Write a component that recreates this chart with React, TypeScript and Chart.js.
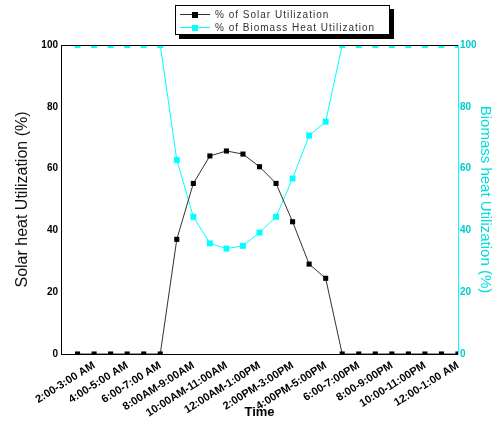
import React, { useEffect, useRef } from "react";
import { Chart, registerables } from "chart.js";

Chart.register(...registerables);

// Hour slots (1 = 1:00-2:00 AM ... 24 = 12:00-1:00 AM)
const hourSlots = [1, 2, 3, 4, 5, 6, 7, 8, 9, 10, 11, 12, 13, 14, 15, 16, 17, 18, 19, 20, 21, 22, 23, 24];
const solarUtilization = [0, 0, 0, 0, 0, 0, 37.1, 55.2, 64.1, 65.7, 64.7, 60.6, 55.2, 42.8, 29.1, 24.5, 0, 0, 0, 0, 0, 0, 0, 0];
const biomassUtilization = [100, 100, 100, 100, 100, 100, 62.8, 44.4, 35.8, 34.1, 35.0, 39.3, 44.4, 56.8, 70.7, 75.2, 100, 100, 100, 100, 100, 100, 100, 100];
const xTickPositions = [2, 4, 6, 8, 10, 12, 14, 16, 18, 20, 22, 24];
const xTickLabels = [
  "2:00-3:00 AM",
  "4:00-5:00 AM",
  "6:00-7:00 AM",
  "8:00AM-9:00AM",
  "10:00AM-11:00AM",
  "12:00AM-1:00PM",
  "2:00PM-3:00PM",
  "4:00PM-5:00PM",
  "6:00-7:00PM",
  "8:00-9:00PM",
  "10:00-11:00PM",
  "12:00-1:00 AM",
];
const legendLabels = ["% of Solar Utilization", "% of Biomass Heat Utilization"];

const FONT = "Arial, 'Liberation Sans', sans-serif";
const CYAN = "#00FFFF";
const DARK = "#333333";

const clipPlugin = {
  id: "hardClip",
  beforeDatasetsDraw(chart: any) {
    const { ctx, chartArea } = chart;
    ctx.save();
    ctx.beginPath();
    ctx.rect(chartArea.left, chartArea.top, chartArea.right - chartArea.left, chartArea.bottom - chartArea.top);
    ctx.clip();
  },
  afterDatasetsDraw(chart: any) {
    chart.ctx.restore();
  },
};

const overlayPlugin = {
  id: "overlay",
  afterDraw(chart: any) {
    const { ctx, chartArea } = chart;
    ctx.save();
    // top frame line
    ctx.strokeStyle = "#000";
    ctx.lineWidth = 1;
    ctx.beginPath();
    ctx.moveTo(chartArea.left, chartArea.top + 0.5);
    ctx.lineTo(chartArea.right, chartArea.top + 0.5);
    ctx.stroke();

    // legend box with shadow
    const bx = 175, by = 5, bw = 215, bh = 30;
    ctx.fillStyle = "#000";
    ctx.fillRect(bx + 4, by + 4, bw, bh);
    ctx.fillStyle = "#fff";
    ctx.fillRect(bx, by, bw, bh);
    ctx.strokeStyle = "#000";
    ctx.strokeRect(bx + 0.5, by + 0.5, bw - 1, bh - 1);

    const rows = [
      { y: 14, line: DARK, mark: "#000", text: legendLabels[0] },
      { y: 27, line: CYAN, mark: CYAN, text: legendLabels[1] },
    ];
    ctx.font = `10px ${FONT}`;
    (ctx as any).letterSpacing = "1px";
    ctx.textBaseline = "middle";
    ctx.textAlign = "left";
    rows.forEach((r) => {
      ctx.strokeStyle = r.line;
      ctx.beginPath();
      ctx.moveTo(180, r.y + 0.5);
      ctx.lineTo(210, r.y + 0.5);
      ctx.stroke();
      ctx.fillStyle = r.mark;
      ctx.fillRect(192, r.y - 2, 6, 6);
      ctx.fillStyle = DARK;
      ctx.fillText(r.text, 215, r.y + 1);
    });
    (ctx as any).letterSpacing = "0px";
    ctx.restore();
  },
};

export default function App() {
  const canvasRef = useRef<HTMLCanvasElement | null>(null);

  useEffect(() => {
    if (!canvasRef.current) return;
    const chart = new Chart(canvasRef.current, {
      type: "line",
      data: {
        datasets: [
          {
            label: legendLabels[0],
            data: hourSlots.map((h, i) => ({ x: h, y: solarUtilization[i] })),
            borderColor: DARK,
            backgroundColor: "#000",
            borderWidth: 1,
            pointStyle: "rect",
            pointRadius: 3.6,
            pointBorderWidth: 0,
            clip: 0,
            yAxisID: "y",
          },
          {
            label: legendLabels[1],
            data: hourSlots.map((h, i) => ({ x: h, y: biomassUtilization[i] })),
            borderColor: CYAN,
            backgroundColor: CYAN,
            borderWidth: 1,
            pointStyle: "rect",
            pointRadius: 4.2,
            pointBorderWidth: 0,
            clip: 0,
            yAxisID: "y2",
          },
        ],
      },
      options: {
        animation: false,
        responsive: false,
        devicePixelRatio: 1,
        layout: { padding: { top: 45, left: 0, right: 0, bottom: 0 } },
        plugins: { legend: { display: false }, tooltip: { enabled: false } },
        scales: {
          x: {
            type: "linear",
            position: "bottom",
            min: 0,
            max: 24,
            afterBuildTicks: (scale: any) => {
              scale.ticks = xTickPositions.map((v) => ({ value: v }));
            },
            afterFit: (scale: any) => {
              scale.height = 71;
            },
            grid: { display: false, drawTicks: false },
            border: { color: "#000", width: 1 },
            ticks: {
              autoSkip: false,
              minRotation: 32,
              maxRotation: 32,
              padding: 5,
              color: "#000",
              font: { family: FONT, size: 11, weight: "bold" },
              callback: (value: any) => {
                const i = xTickPositions.indexOf(Number(value));
                return i >= 0 ? xTickLabels[i] : "";
              },
            },
            title: {
              display: true,
              text: "Time",
              color: "#000",
              font: { family: FONT, size: 13, weight: "bold" },
              padding: { top: 0, bottom: 5 },
            },
          },
          y: {
            type: "linear",
            position: "left",
            min: 0,
            max: 100,
            afterFit: (scale: any) => {
              scale.width = 61;
            },
            grid: { display: false, drawTicks: false },
            border: { color: "#000", width: 1 },
            ticks: {
              stepSize: 20,
              padding: 3,
              color: "#000",
              font: { family: FONT, size: 10, weight: "bold" },
            },
            title: {
              display: true,
              text: "Solar heat Utilization (%)",
              color: "#111",
              font: { family: FONT, size: 16 },
              padding: { top: 13, bottom: 0 },
            },
          },
          y2: {
            type: "linear",
            position: "right",
            min: 0,
            max: 100,
            afterFit: (scale: any) => {
              scale.width = 42;
            },
            grid: { display: false, drawTicks: false },
            border: { color: CYAN, width: 1 },
            ticks: {
              stepSize: 20,
              padding: 2,
              color: "#00CCCC",
              font: { family: FONT, size: 10, weight: "bold" },
            },
            title: {
              display: true,
              text: "Biomass heat Utilization (%)",
              color: "#00DDDD",
              font: { family: FONT, size: 15 },
              padding: { top: 6, bottom: 0 },
            },
          },
        },
      },
      plugins: [clipPlugin, overlayPlugin],
    } as any);
    return () => chart.destroy();
  }, []);

  return (
    <div style={{ position: "absolute", left: 0, top: 0, width: 500, height: 425, background: "#fff" }}>
      <canvas ref={canvasRef} width={500} height={425} style={{ width: 500, height: 425, display: "block" }} />
    </div>
  );
}
